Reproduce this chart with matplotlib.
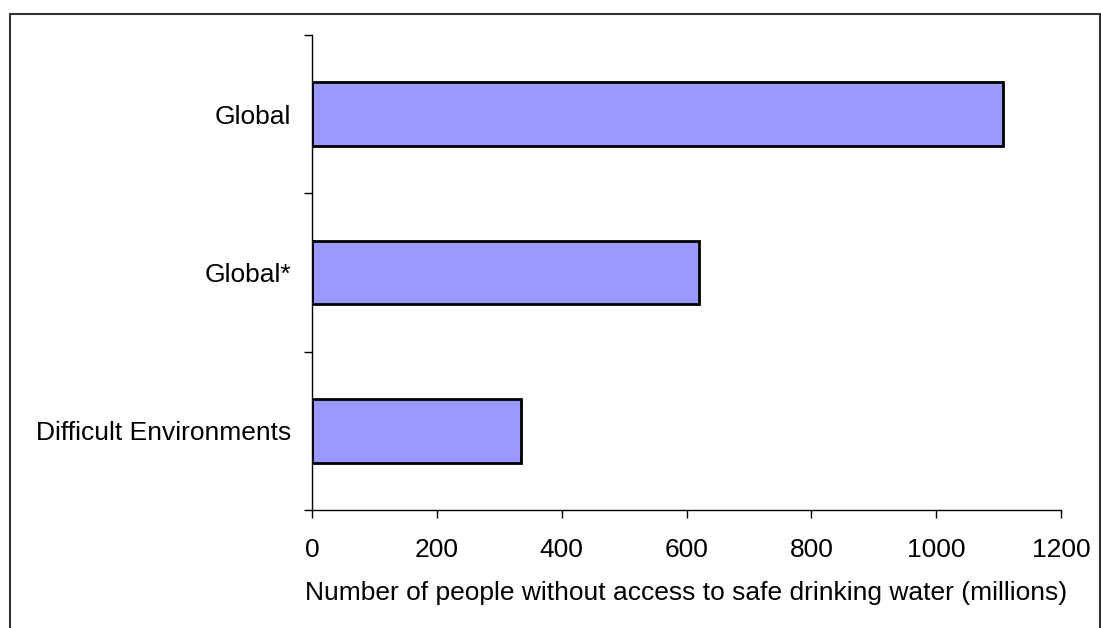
import matplotlib.pyplot as plt
import matplotlib.patches as patches
import numpy as np

categories = ['Difficult Environments', 'Global*', 'Global']
values = [335, 620, 1107]
x_ticks = [0, 200, 400, 600, 800, 1000, 1200]
x_label = 'Number of people without access to safe drinking water (millions)'

plt.rcParams['font.family'] = ['Liberation Sans', 'DejaVu Sans']

fig = plt.figure(figsize=(11.01, 6.28), dpi=100)
ax = fig.add_axes([312 / 1101, 118 / 628, 749 / 1101, 475 / 628])

pos = np.arange(len(categories))
ax.barh(pos, values, height=0.4, color='#9999FF', edgecolor='black', linewidth=2)

ax.set_xlim(0, 1200)
ax.set_ylim(-0.5, len(categories) - 0.5)
ax.set_xticks(x_ticks)
ax.set_xticklabels([str(t) for t in x_ticks], fontsize=19)
ax.set_xlabel(x_label, fontsize=19, labelpad=14)

# labels at bar centres, tick marks at category boundaries
ax.set_yticks(pos)
ax.set_yticklabels(categories, fontsize=19)
ax.set_yticks(np.arange(-0.5, len(categories)), minor=True)
ax.tick_params(axis='y', which='major', length=0, pad=15)
ax.tick_params(axis='y', which='minor', length=6, width=1, direction='out')
ax.tick_params(axis='x', length=6, width=1, direction='out', pad=14)

for s in ['top', 'right']:
    ax.spines[s].set_visible(False)
for s in ['left', 'bottom']:
    ax.spines[s].set_linewidth(1)

border = patches.Rectangle((10 / 1101, -0.1), 1089.5 / 1101, 1.1 - 14 / 628,
                           transform=fig.transFigure, fill=False,
                           edgecolor='#333333', linewidth=1.5)
fig.patches.append(border)

fig.savefig('out.png', dpi=100)
